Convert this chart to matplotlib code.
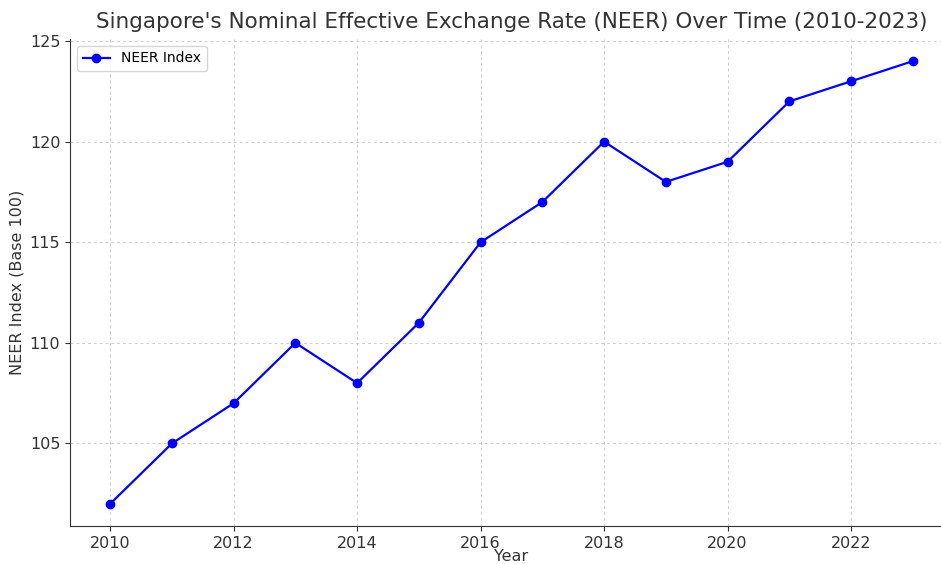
import matplotlib
matplotlib.use("Agg")
import matplotlib.pyplot as plt

years = [2010, 2011, 2012, 2013, 2014, 2015, 2016, 2017, 2018, 2019, 2020, 2021, 2022, 2023]
neer = [102, 105, 107, 110, 108, 111, 115, 117, 120, 118, 119, 122, 123, 124]

fig = plt.figure(figsize=(9.41, 5.64), dpi=100)
ax = fig.add_axes([70/941, 1 - 526/564, (953-70)/941, (526-39)/564])

ax.plot(years, neer, color="blue", marker="o", markersize=6, linewidth=1.6, label="NEER Index")
ax.set_title("Singapore's Nominal Effective Exchange Rate (NEER) Over Time (2010-2023)",
             fontsize=15.5, color="#333333", pad=8)
ax.set_xlabel("Year", fontsize=11.5, color="#333333", labelpad=-1.5)
ax.set_ylabel("NEER Index (Base 100)", fontsize=11.5, color="#333333")
ax.grid(True, linestyle=(0, (3, 3)), color="#d0d0d0", linewidth=0.7)
ax.set_yticks([105, 110, 115, 120, 125])
ax.tick_params(labelsize=11.5, colors="#333333")
for s in ["top", "right"]:
    ax.spines[s].set_visible(False)
ax.spines["left"].set_color("#333333")
ax.spines["bottom"].set_color("#333333")
ax.legend(loc="upper left", fontsize=10)

fig.savefig("out.png", dpi=100)
